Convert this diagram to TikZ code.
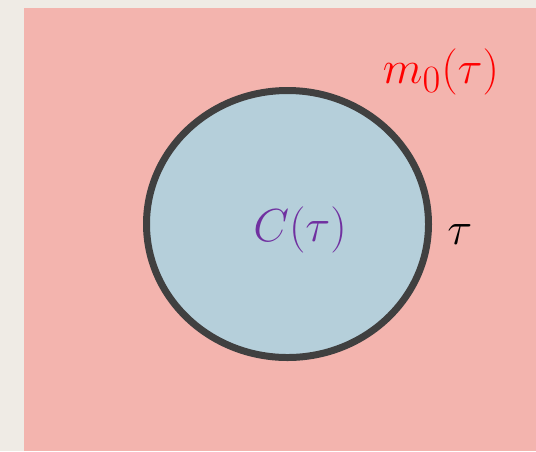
\documentclass[tikz,border=0pt]{standalone}
\usetikzlibrary{positioning,shapes.geometric}
\usepackage{amsmath}
\usepackage{xcolor}
\definecolor{fondo}{HTML}{EFEBE5}
\definecolor{rosa}{HTML}{F3B4AE}
\definecolor{celeste}{HTML}{B5CFDA}
\definecolor{borde}{HTML}{404040}
\definecolor{morado}{HTML}{7030A0}
\definecolor{rojo}{HTML}{FF0000}

\begin{document}
\begin{tikzpicture}[x=0.02cm, y=-0.02cm,
      lbl/.style={font=\Huge, inner sep=0pt, scale=1.06, transform shape},
      reg/.style={ellipse, draw=borde, fill=celeste, line width=7pt*0.5683,
                  minimum width=282*0.02cm, minimum height=267*0.02cm, inner sep=0pt}]

    % --- fondo y dominio ------------------------------------------------
    \fill[fondo] (0,0) rectangle (536,451);
    \fill[rosa] (24,8) rectangle (536,451);
    \useasboundingbox (0,0) rectangle (536,451);

    % --- region y etiquetas ---------------------------------------------
    \node[reg] (c) at (287.5,224) {};
    \node[lbl, text=morado] (ct) at (300,230) {$C(\tau)$};
    \node[lbl, text=black, right=0.3cm of c.east, yshift=-0.2cm] (t) {$\tau$};
    \node[lbl, text=rojo] (m) at (441,72) {$m_0(\tau)$};
  \end{tikzpicture}
\end{document}
